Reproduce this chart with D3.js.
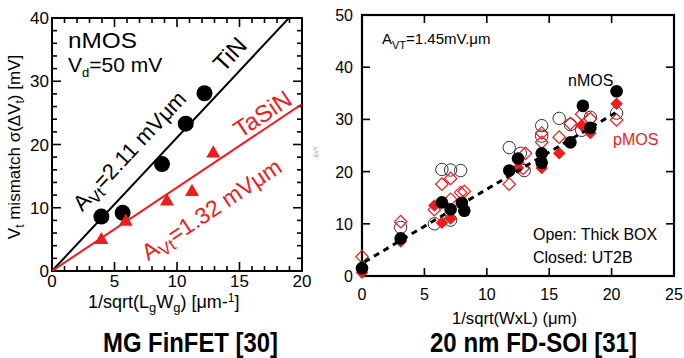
<!DOCTYPE html>
<html>
<head>
<meta charset="utf-8">
<script src="https://cdn.jsdelivr.net/npm/d3@7"></script>
<style>
body { margin: 0; background: #fff; }
text { font-family: "Liberation Sans", Arial, sans-serif; }
</style>
</head>
<body>
<div id="vis"></div>
<script>
var width = 684,
    height = 358;

// ---- left panel data (MG FinFET) ----
var tinX = [3.95, 5.65, 8.8, 10.7, 12.2];
var tinY = [8.6, 9.2, 16.9, 23.3, 28.1];
var tasinX = [3.95, 5.9, 9.2, 11.2, 12.9];
var tasinY = [4.9, 7.8, 11.0, 12.5, 18.6];
var fitSlopes = [2.11, 1.32];   // TiN, TaSiN
var leftXTicks = [0, 5, 10, 15, 20];
var leftYTicks = [0, 10, 20, 30, 40];

// ---- right panel data (20 nm FD-SOI) ----
var nOpen = [[3.1,9.3],[5.8,10.0],[6.4,20.4],[7.1,20.3],[7.1,10.7],[7.9,20.2],[11.8,24.6],[12.7,23.5],
  [13.0,20.2],[14.4,28.8],[14.4,26.8],[15.8,30.2],[16.7,29.0],[17.6,27.9],[18.3,30.4],[20.4,31.2]];
var nClosed = [[0,1.5],[3.1,7.2],[6.4,14.1],[7.1,12.8],[8.0,14.0],[8.2,12.5],[11.8,20.2],[12.5,22.5],
  [14.4,23.5],[14.4,21.7],[16.7,25.6],[17.7,32.6],[18.3,28.4],[20.4,35.4]];
var pOpen = [[0,3.7],[3.1,10.4],[5.8,12.7],[6.4,17.6],[7.1,18.7],[7.1,14.7],[7.9,16.0],[8.2,16.2],
  [11.8,17.6],[12.9,20.6],[13.1,23.5],[14.4,27.4],[14.4,25.6],[15.8,26.6],[16.7,29.2],[17.6,31.0],
  [18.3,30.1],[20.4,29.9]];
var pClosed = [[0,0.6],[3.1,6.6],[5.8,13.5],[6.4,10.2],[7.1,11.0],[8.0,13.6],[12.5,20.7],[14.4,20.7],
  [15.8,23.5],[17.6,28.9],[18.3,27.4],[20.4,33.0]];
var fitX = [0.2, 20.4];
var fitY = [2.7, 31.4];
var rightXTicks = [0, 5, 10, 15, 20, 25];
var rightYTicks = [0, 10, 20, 30, 40, 50];

var RED = "#ee1c1c";

var svg = d3.select("#vis").append("svg")
    .attr("width", width)
    .attr("height", height);

// inward ticks on all four sides of a frame
function frameTicks(g, x, y, xt, yt, len) {
  var x0 = x.range()[0], x1 = x.range()[1], y0 = y.range()[0], y1 = y.range()[1];
  xt.forEach(function(t) {
    var l = t.len || len;
    g.append("line").attr("x1", x(t.v)).attr("x2", x(t.v)).attr("y1", y0).attr("y2", y0 - l);
    g.append("line").attr("x1", x(t.v)).attr("x2", x(t.v)).attr("y1", y1).attr("y2", y1 + l);
  });
  yt.forEach(function(t) {
    var l = t.len || len;
    g.append("line").attr("y1", y(t.v)).attr("y2", y(t.v)).attr("x1", x0).attr("x2", x0 + l);
    g.append("line").attr("y1", y(t.v)).attr("y2", y(t.v)).attr("x1", x1).attr("x2", x1 - l);
  });
  g.selectAll("line").attr("stroke", "#000").attr("stroke-width", 1.6);
}

//--------LEFT PANEL--------//
var xL = d3.scaleLinear().domain([0, 20]).range([52, 302]);
var yL = d3.scaleLinear().domain([0, 40]).range([271, 18]);

var left = svg.append("g");

var lt = left.append("g");
frameTicks(lt, xL, yL,
  d3.range(1, 20).map(function(v) { return {v: v, len: v % 5 === 0 ? 9 : 5}; }),
  d3.range(2, 40, 2).map(function(v) { return {v: v, len: v % 10 === 0 ? 9 : 5}; }), 5);

left.append("rect")
    .attr("x", xL(0)).attr("y", yL(40))
    .attr("width", xL(20) - xL(0)).attr("height", yL(0) - yL(40))
    .attr("fill", "none").attr("stroke", "#000").attr("stroke-width", 2);

left.selectAll(".xtl").data(leftXTicks).enter().append("text")
    .attr("x", xL).attr("y", 287)
    .attr("text-anchor", "middle").style("font-size", "17px")
    .text(function(d) { return d; });
left.selectAll(".ytl").data(leftYTicks).enter().append("text")
    .attr("x", 49).attr("y", function(d) { return yL(d) + 6; })
    .attr("text-anchor", "end").style("font-size", "17px")
    .text(function(d) { return d; });

// fit lines through origin, clipped to the frame
left.append("clipPath").attr("id", "clipL").append("rect")
    .attr("x", xL(0)).attr("y", yL(40)).attr("width", xL(20) - xL(0)).attr("height", yL(0) - yL(40));
var lineColors = ["#000", RED];
fitSlopes.forEach(function(s, i) {
  left.append("line")
      .attr("clip-path", "url(#clipL)")
      .attr("x1", xL(0)).attr("y1", yL(0))
      .attr("x2", xL(20)).attr("y2", yL(20 * s))
      .attr("stroke", lineColors[i]).attr("stroke-width", 2);
});

left.selectAll(".tin").data(tinX).enter().append("circle")
    .attr("cx", function(d) { return xL(d); })
    .attr("cy", function(d, i) { return yL(tinY[i]); })
    .attr("r", 8).attr("fill", "#000");

var tri = d3.symbol().type(d3.symbolTriangle).size(85);
left.selectAll(".tasin").data(tasinX).enter().append("path")
    .attr("d", tri)
    .attr("transform", function(d, i) { return "translate(" + xL(d) + "," + yL(tasinY[i]) + ")"; })
    .attr("fill", RED);

// annotations
left.append("text").attr("x", 68).attr("y", 48).style("font-size", "22px")
    .attr("textLength", 69).attr("lengthAdjust", "spacingAndGlyphs").text("nMOS");
var vd = left.append("text").attr("x", 68).attr("y", 72).style("font-size", "21px");
vd.append("tspan").text("V");
vd.append("tspan").attr("dy", 5).style("font-size", "13px").text("d");
vd.append("tspan").attr("dy", -5).text("=50 mV");

function angleOf(s) {
  return Math.atan2(yL(20 * s) - yL(0), xL(20) - xL(0)) * 180 / Math.PI;
}
left.append("text")
    .attr("transform", "translate(236,60) rotate(" + angleOf(fitSlopes[0]) + ")")
    .attr("text-anchor", "middle").style("font-size", "24px").text("TiN");
left.append("text")
    .attr("transform", "translate(267,121) rotate(" + angleOf(fitSlopes[1]) + ")")
    .attr("text-anchor", "middle").style("font-size", "24px").attr("fill", RED).text("TaSiN");

function avt(g, cx, cy, s, label, color, fs) {
  var t = g.append("text")
      .attr("transform", "translate(" + cx + "," + cy + ") rotate(" + angleOf(s) + ")")
      .attr("text-anchor", "middle").style("font-size", fs + "px").attr("fill", color);
  t.append("tspan").text("A");
  t.append("tspan").attr("dy", 5).style("font-size", (fs - 6) + "px").text("Vt");
  t.append("tspan").attr("dy", -5).text("=" + label + " mV\u03bcm");
}
avt(left, 135, 156, fitSlopes[0], "2.11", "#000", 22);
avt(left, 216, 216, fitSlopes[1], "1.32", RED, 23);

var yl = left.append("text")
    .attr("transform", "translate(20,147) rotate(-90)")
    .attr("text-anchor", "middle").style("font-size", "17px");
yl.append("tspan").text("V");
yl.append("tspan").attr("dy", 4).style("font-size", "12px").text("t");
yl.append("tspan").attr("dy", -4).text(" mismatch \u03c3(\u0394V");
yl.append("tspan").attr("dy", 4).style("font-size", "12px").text("t");
yl.append("tspan").attr("dy", -4).text(") [mV]");

var xl = left.append("text")
    .attr("x", 88).attr("y", 308)
    .style("font-size", "18px");
xl.append("tspan").text("1/sqrt(L");
xl.append("tspan").attr("dy", 4).style("font-size", "13px").text("g");
xl.append("tspan").attr("dy", -4).text("W");
xl.append("tspan").attr("dy", 4).style("font-size", "13px").text("g");
xl.append("tspan").attr("dy", -4).text(") [\u03bcm-");
xl.append("tspan").attr("dy", -6).style("font-size", "12px").text("1");
xl.append("tspan").attr("dy", 6).text("]");

left.append("text").attr("x", 103).attr("y", 352)
    .style("font-size", "28px").style("font-weight", "bold")
    .attr("textLength", 175).attr("lengthAdjust", "spacingAndGlyphs")
    .text("MG FinFET [30]");

//--------RIGHT PANEL--------//
var xR = d3.scaleLinear().domain([0, 25]).range([362, 674]);
var yR = d3.scaleLinear().domain([0, 50]).range([276, 15]);

var right = svg.append("g");
var rt = right.append("g");
frameTicks(rt, xR, yR,
  [5, 10, 15, 20].map(function(v) { return {v: v}; }),
  [10, 20, 30, 40].map(function(v) { return {v: v}; }), 8);

right.append("rect")
    .attr("x", xR(0)).attr("y", yR(50))
    .attr("width", xR(25) - xR(0)).attr("height", yR(0) - yR(50))
    .attr("fill", "none").attr("stroke", "#000").attr("stroke-width", 2.2);

right.selectAll(".xtr").data(rightXTicks).enter().append("text")
    .attr("x", xR).attr("y", 300)
    .attr("text-anchor", "middle").style("font-size", "16px")
    .text(function(d) { return d; });
right.selectAll(".ytr").data(rightYTicks).enter().append("text")
    .attr("x", 353).attr("y", function(d) { return yR(d) + 6; })
    .attr("text-anchor", "end").style("font-size", "16px")
    .text(function(d) { return d; });

var diamond = d3.symbol().type(d3.symbolSquare).size(78);
function tr(d) { return "translate(" + xR(d[0]) + "," + yR(d[1]) + ")"; }

right.selectAll(".no").data(nOpen).enter().append("circle")
    .attr("cx", function(d) { return xR(d[0]); }).attr("cy", function(d) { return yR(d[1]); })
    .attr("r", 6.2).attr("fill", "none").attr("stroke", "#333").attr("stroke-width", 1);
right.selectAll(".po").data(pOpen).enter().append("path")
    .attr("d", diamond)
    .attr("transform", function(d) { return tr(d) + " rotate(45)"; })
    .attr("fill", "none").attr("stroke", RED).attr("stroke-width", 1.2);
right.selectAll(".pc").data(pClosed).enter().append("path")
    .attr("d", diamond)
    .attr("transform", function(d) { return tr(d) + " rotate(45)"; })
    .attr("fill", RED);
right.selectAll(".nc").data(nClosed).enter().append("circle")
    .attr("cx", function(d) { return xR(d[0]); }).attr("cy", function(d) { return yR(d[1]); })
    .attr("r", 6.3).attr("fill", "#000");

right.append("line")
    .attr("x1", xR(fitX[0])).attr("y1", yR(fitY[0]))
    .attr("x2", xR(fitX[1])).attr("y2", yR(fitY[1]))
    .attr("stroke", "#000").attr("stroke-width", 3)
    .attr("stroke-dasharray", "6,5");

var av = right.append("text").attr("x", 382).attr("y", 44).style("font-size", "15px");
av.append("tspan").text("A");
av.append("tspan").attr("dy", 5).style("font-size", "11px").text("VT");
av.append("tspan").attr("dy", -5).text("=1.45mV.\u03bcm");

right.append("text").attr("x", 568).attr("y", 86).style("font-size", "16px").text("nMOS");
right.append("text").attr("x", 613).attr("y", 145).style("font-size", "16px").attr("fill", RED).text("pMOS");
right.append("text").attr("x", 533).attr("y", 240).style("font-size", "16px").text("Open: Thick BOX");
right.append("text").attr("x", 533).attr("y", 263).style("font-size", "16px").text("Closed: UT2B");

right.append("text")
    .attr("transform", "translate(318,152) rotate(-90)")
    .attr("text-anchor", "middle").style("font-size", "6px").attr("fill", "#888")
    .text("\u0394VT");

right.append("text").attr("x", 452).attr("y", 324)
    .style("font-size", "16px")
    .attr("textLength", 125).attr("lengthAdjust", "spacingAndGlyphs")
    .text("1/sqrt(WxL) (\u03bcm)");

right.append("text").attr("x", 430).attr("y", 352)
    .style("font-size", "28px").style("font-weight", "bold")
    .attr("textLength", 207).attr("lengthAdjust", "spacingAndGlyphs")
    .text("20 nm FD-SOI [31]");
</script>
</body>
</html>
